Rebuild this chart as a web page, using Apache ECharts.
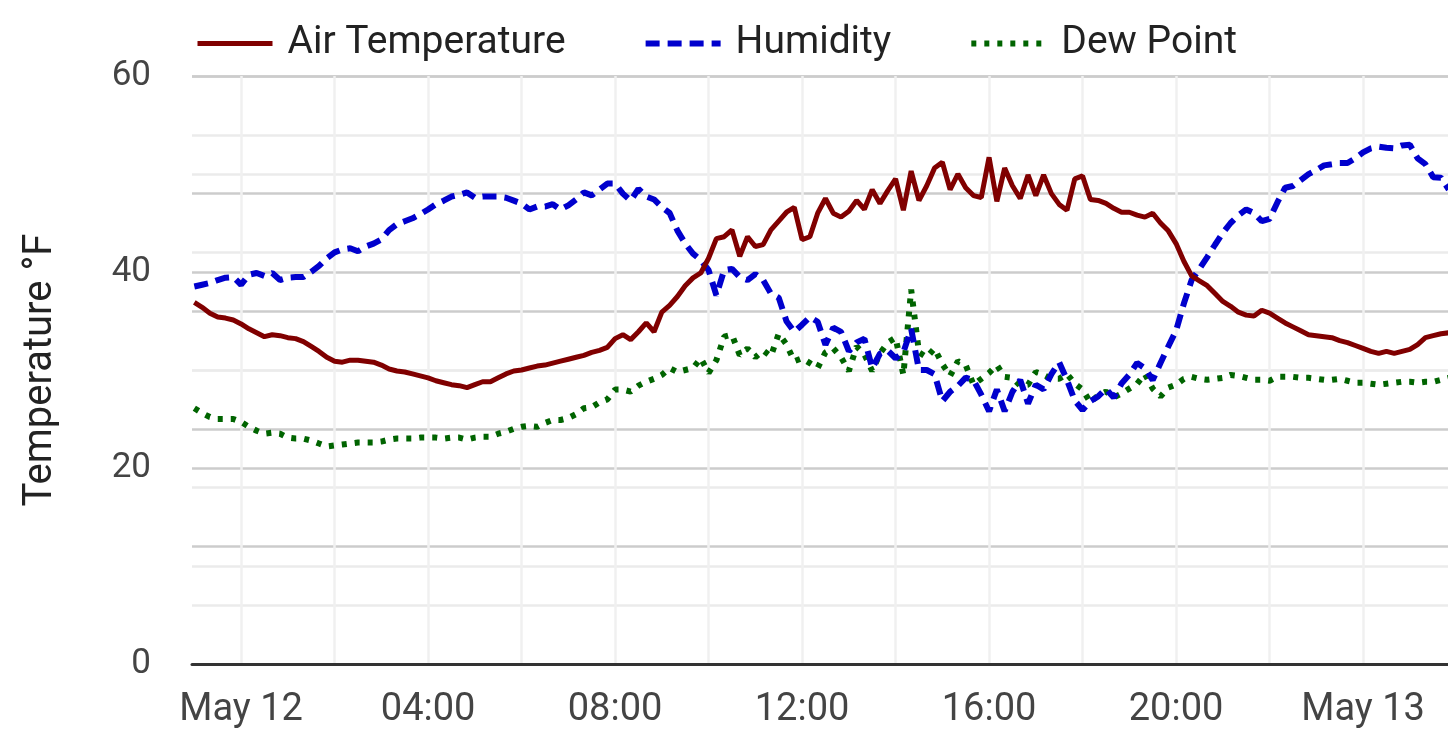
<!DOCTYPE html>
<html>
<head>
<meta charset="utf-8">
<title>Air Temperature, Humidity and Dew Point</title>
<script src="https://cdn.jsdelivr.net/npm/echarts@6/dist/echarts.min.js"></script>
<style>
  html, body { margin: 0; padding: 0; background: #fff; }
  #main { width: 1448px; height: 752px; }
</style>
</head>
<body>
<div id="main"></div>
<script>
// readings every 10 minutes, from 23:00 on May 11 to 01:50 on May 13
const startTime = Date.UTC(2023, 4, 11, 23, 0)
const stepMinutes = 10

// air temperature, °F
const airTemp = [
  36.9, 36.4, 35.8, 35.4, 35.3, 35.1, 34.7, 34.2, 33.8, 33.4,
  33.6, 33.5, 33.3, 33.2, 32.9, 32.4, 31.9, 31.3, 30.9, 30.8,
  31.0, 31.0, 30.9, 30.8, 30.5, 30.1, 29.9, 29.8, 29.6, 29.4,
  29.2, 28.9, 28.7, 28.5, 28.4, 28.2, 28.5, 28.8, 28.8, 29.2,
  29.6, 29.9, 30.0, 30.2, 30.4, 30.5, 30.7, 30.9, 31.1, 31.3,
  31.5, 31.8, 32.0, 32.3, 33.2, 33.6, 33.1, 33.9, 34.8, 33.9,
  35.9, 36.6, 37.5, 38.6, 39.4, 39.9, 41.4, 43.4, 43.6, 44.3,
  41.6, 43.6, 42.6, 42.8, 44.3, 45.2, 46.1, 46.6, 43.3, 43.6,
  46.0, 47.5, 46.0, 45.6, 46.2, 47.3, 46.4, 48.4, 47.0, 48.3,
  49.5, 46.3, 50.3, 47.3, 48.8, 50.6, 51.2, 48.4, 50.0, 48.6,
  47.8, 47.6, 51.7, 47.2, 50.6, 48.8, 47.5, 49.9, 47.8, 49.9,
  48.0, 46.9, 46.3, 49.5, 49.8, 47.4, 47.3, 47.0, 46.5, 46.1,
  46.1, 45.8, 45.6, 46.0, 45.0, 44.2, 42.9, 41.1, 39.6, 39.1,
  38.6, 37.8, 37.0, 36.5, 35.9, 35.6, 35.5, 36.1, 35.8, 35.3,
  34.8, 34.4, 34.0, 33.6, 33.5, 33.4, 33.3, 33.0, 32.8, 32.5,
  32.2, 31.9, 31.7, 31.9, 31.7, 31.9, 32.1, 32.6, 33.3, 33.5,
  33.7, 33.8
]

// relative humidity, % (drawn on the hidden 0-100 right axis)
const humidity = [
  64.2, 64.5, 64.8, 65.3, 65.7, 65.8, 64.5, 66.2, 66.5, 66.0,
  66.5, 65.3, 65.7, 65.8, 65.8, 66.7, 67.7, 69.0, 70.0, 70.5,
  70.7, 70.2, 71.0, 71.5, 72.2, 73.8, 74.8, 75.3, 75.8, 76.5,
  77.3, 78.2, 78.8, 79.5, 79.8, 80.2, 79.3, 79.5, 79.5, 79.5,
  79.3, 78.8, 78.3, 77.3, 77.8, 77.8, 78.2, 77.3, 78.0, 79.0,
  80.2, 79.7, 80.7, 81.7, 81.7, 80.0, 78.8, 80.8, 79.5, 79.0,
  77.7, 76.7, 73.7, 71.5, 69.8, 68.7, 67.0, 62.7, 67.0, 67.2,
  65.8, 65.3, 66.3, 65.3, 63.0, 62.3, 58.3, 56.5, 57.7, 59.0,
  58.2, 54.3, 57.2, 56.5, 53.2, 54.7, 55.3, 50.3, 52.8, 53.3,
  52.0, 53.0, 57.0, 50.0, 50.0, 49.3, 44.7, 46.3, 47.3, 48.7,
  48.3, 45.8, 43.0, 46.7, 43.0, 46.3, 48.3, 44.3, 47.5, 46.7,
  49.3, 51.3, 48.3, 44.8, 43.2, 44.7, 45.5, 46.8, 45.3, 47.7,
  49.2, 51.2, 50.3, 48.3, 51.2, 54.0, 56.7, 61.3, 65.3, 67.2,
  69.2, 71.3, 73.3, 75.0, 76.3, 77.3, 76.7, 75.3, 75.7, 78.5,
  81.0, 81.3, 82.3, 83.3, 84.0, 84.8, 85.0, 85.2, 85.2, 86.0,
  87.0, 87.7, 88.0, 87.8, 87.7, 88.2, 88.3, 86.0, 85.0, 82.8,
  82.7, 80.7
]

// dew point, °F
const dewPoint = [
  26.1, 25.6, 25.2, 25.0, 25.0, 25.0, 24.7, 24.2, 23.8, 23.5,
  23.6, 23.5, 23.1, 23.0, 23.0, 22.8, 22.5, 22.2, 22.3, 22.4,
  22.5, 22.6, 22.6, 22.6, 22.7, 22.9, 23.0, 23.0, 23.0, 23.1,
  23.1, 23.1, 23.0, 23.1, 23.1, 22.9, 23.1, 23.2, 23.2, 23.5,
  23.7, 24.0, 24.2, 24.3, 24.2, 24.6, 24.9, 24.9, 25.1, 25.5,
  26.1, 26.2, 26.7, 27.0, 28.0, 28.0, 27.8, 28.4, 28.8, 29.1,
  29.5, 30.2, 29.8, 30.0, 30.2, 31.2, 29.7, 31.0, 33.4, 33.6,
  31.5, 32.2, 31.3, 32.0, 31.4, 33.7, 32.6, 30.9, 31.2, 30.7,
  30.2, 31.8, 32.2, 31.3, 29.9, 32.4, 31.6, 29.9, 31.7, 32.8,
  33.3, 29.5, 38.2, 31.8, 31.3, 32.2, 30.6, 29.4, 30.9, 30.5,
  28.5, 29.1, 29.7, 30.5, 29.3, 29.2, 28.4, 28.5, 29.8, 29.5,
  29.1, 29.1, 29.6, 28.6, 28.0, 26.7, 27.4, 27.8, 27.2, 27.6,
  28.1, 28.6, 29.6, 28.1, 27.3, 28.2, 28.5, 29.1, 29.3, 29.1,
  29.0, 29.1, 29.2, 29.5, 29.4, 29.2, 29.0, 29.0, 28.9, 29.3,
  29.3, 29.3, 29.2, 29.2, 29.1, 29.0, 29.0, 29.1, 28.9, 28.7,
  28.7, 28.6, 28.5, 28.6, 28.7, 28.8, 28.8, 28.7, 28.8, 28.8,
  29.0, 29.2
]

// x-axis labels every 4 h, grid lines every 2 h (hours after May 12 00:00)
const HOUR = 3600 * 1000
const dayStart = Date.UTC(2023, 4, 12, 0, 0)
const labelHours = [0, 4, 8, 12, 16, 20, 24]
const gridHours = [0, 2, 4, 6, 8, 10, 12, 14, 16, 18, 20, 22, 24]
const monthNames = ['Jan', 'Feb', 'Mar', 'Apr', 'May', 'Jun', 'Jul', 'Aug', 'Sep', 'Oct', 'Nov', 'Dec']

const xMin = Date.UTC(2023, 4, 11, 22, 57)
const xMax = Date.UTC(2023, 4, 13, 1, 49)

function withTimes(values) {
  return values.map((v, i) => [startTime + i * stepMinutes * 60000, v])
}

function fmtTime(val) {
  const d = new Date(val)
  const h = d.getUTCHours()
  if (h === 0) return monthNames[d.getUTCMonth()] + ' ' + d.getUTCDate()
  return (h < 10 ? '0' + h : h) + ':00'
}

const FONT = 'Roboto'
const chart = echarts.init(document.getElementById('main'))

const yCommon = {
  type: 'value',
  min: 0,
  interval: 20,
  axisLine: { show: false },
  axisTick: { show: false },
  splitLine: { show: true, lineStyle: { color: '#cccccc', width: 2.5 } },
  minorTick: { show: false, splitNumber: 2 },
  minorSplitLine: { show: true, lineStyle: { color: '#ebebeb', width: 2.5 } }
}

chart.setOption({
  animation: false,
  backgroundColor: '#ffffff',
  textStyle: { fontFamily: FONT },
  legend: {
    top: 19,
    left: 190,
    itemWidth: 75,
    itemHeight: 4,
    itemGap: 77,
    lineStyle: { width: 'inherit' },
    itemStyle: { opacity: 0 },
    textStyle: { fontSize: 39, color: '#222', fontFamily: FONT, padding: [0, 0, 0, 10] },
    data: ['Air Temperature', 'Humidity', 'Dew Point']
  },
  grid: { left: 192, right: 0, top: 76, bottom: 88, containLabel: false },
  xAxis: {
    type: 'value',
    min: xMin,
    max: xMax,
    axisLine: { show: true, onZero: false, lineStyle: { color: '#333333', width: 3 } },
    axisTick: { show: false, customValues: gridHours.map(h => dayStart + h * HOUR) },
    axisLabel: {
      customValues: labelHours.map(h => dayStart + h * HOUR),
      formatter: fmtTime,
      fontSize: 38,
      color: '#444',
      fontFamily: FONT,
      margin: 27,
      hideOverlap: false
    },
    splitLine: { show: true, lineStyle: { color: '#f0f0f0', width: 2.5 } }
  },
  yAxis: [
    Object.assign({}, yCommon, {
      max: 60,
      name: 'Temperature °F',
      nameLocation: 'middle',
      nameGap: 131,
      nameTextStyle: { fontSize: 40, color: '#222', fontFamily: FONT },
      axisLabel: { fontSize: 35, color: '#444', fontFamily: FONT, margin: 41 }
    }),
    Object.assign({}, yCommon, {
      max: 100,
      position: 'right',
      axisLabel: { show: false }
    })
  ],
  series: [
    {
      name: 'Air Temperature',
      type: 'line',
      symbol: 'none',
      data: withTimes(airTemp),
      lineStyle: { color: '#800000', width: 5 },
      itemStyle: { color: '#800000' },
      z: 3
    },
    {
      name: 'Humidity',
      type: 'line',
      yAxisIndex: 1,
      symbol: 'none',
      data: withTimes(humidity),
      lineStyle: { color: '#0000cd', width: 6, type: [14, 8] },
      itemStyle: { color: '#0000cd' },
      z: 2
    },
    {
      name: 'Dew Point',
      type: 'line',
      symbol: 'none',
      data: withTimes(dewPoint),
      lineStyle: { color: '#006400', width: 6, type: [5, 8] },
      itemStyle: { color: '#006400' },
      z: 1
    }
  ]
})
</script>
</body>
</html>
